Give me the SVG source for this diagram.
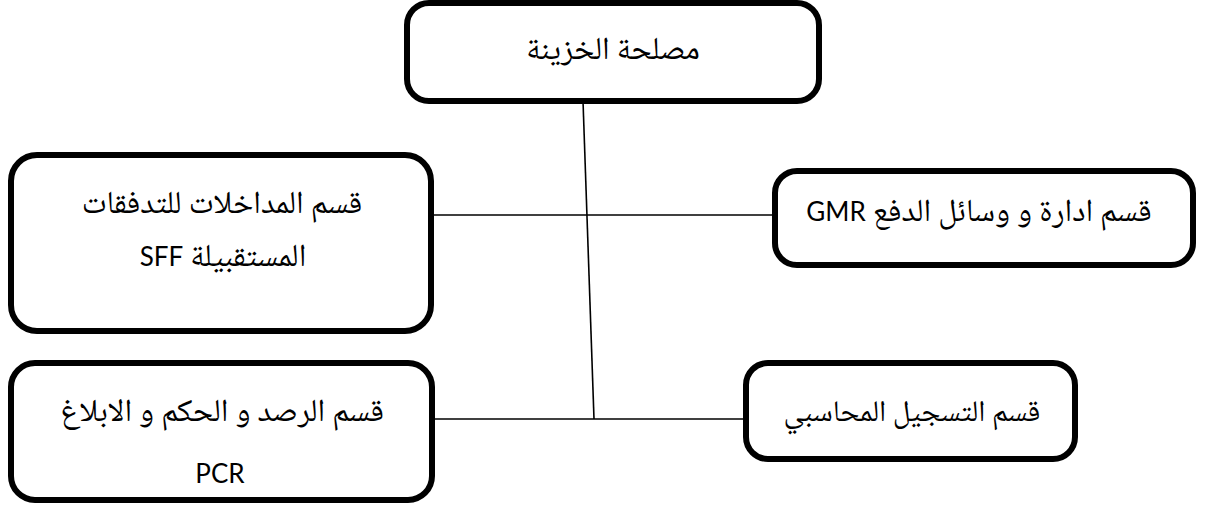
<svg xmlns="http://www.w3.org/2000/svg" width="1220" height="506" viewBox="0 0 1220 506">
<style>
.box{fill:#fff;stroke:#000;stroke-width:6}
.t{font-family:"Noto Naskh Arabic","Noto Sans Arabic","DejaVu Sans",sans-serif;font-size:32px;fill:#000;text-anchor:middle}
.l{font-family:Lato,"Open Sans",sans-serif;font-size:26px}
.c{stroke:#000;stroke-width:1.6;fill:none}
</style>
<rect width="1220" height="506" fill="#fff"/>
<g id="connectors">
<line class="c" x1="583" y1="101" x2="594" y2="419"/>
<line class="c" x1="421" y1="215" x2="775" y2="215"/>
<line class="c" x1="432" y1="419" x2="746" y2="419"/>
</g>
<g id="n-treasury">
<rect class="box" x="407" y="3" width="412" height="98" rx="22"/>
<text class="t" x="613" y="59" direction="rtl">مصلحة الخزينة</text>
</g>
<g id="n-sff">
<rect class="box" x="11" y="155" width="420" height="176" rx="26"/>
<text class="t" x="222" y="213" direction="rtl">قسم المداخلات للتدفقات</text>
<text class="t" x="223" y="266" direction="rtl">المستقبيلة <tspan class="l">SFF</tspan></text>
</g>
<g id="n-gmr">
<rect class="box" x="775" y="171" width="418" height="94" rx="22"/>
<text class="t" x="979" y="221" direction="rtl">قسم ادارة و وسائل الدفع <tspan class="l">GMR</tspan></text>
</g>
<g id="n-pcr">
<rect class="box" x="11" y="363" width="421" height="137" rx="24"/>
<text class="t" x="222" y="421" direction="rtl">قسم الرصد و الحكم و الابلاغ</text>
<text class="t l" x="220" y="483">PCR</text>
</g>
<g id="n-accounting">
<rect class="box" x="746" y="363" width="329" height="96" rx="22"/>
<text class="t" x="912" y="421" direction="rtl" style="font-size:30px">قسم التسجيل المحاسبي</text>
</g>
</svg>
